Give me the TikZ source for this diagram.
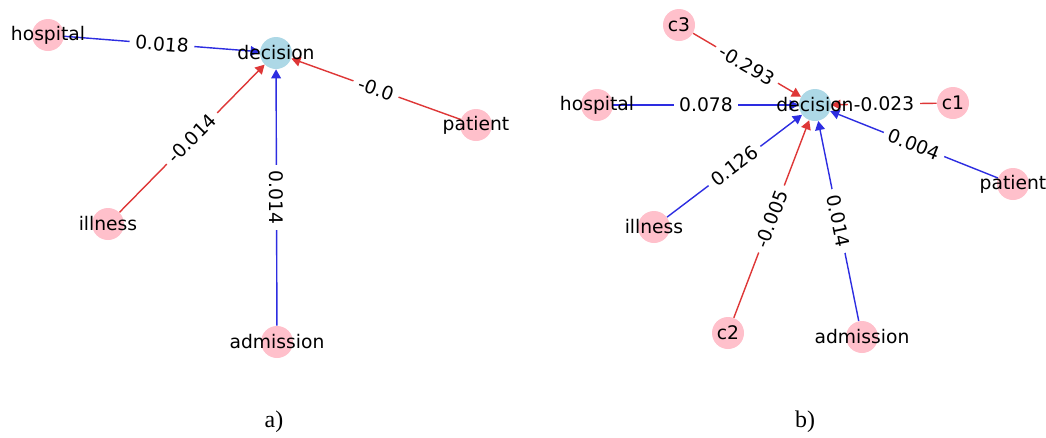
\documentclass[tikz,border=0pt]{standalone}
\usepackage{fontspec}
\setmainfont{DejaVu Sans}
\newfontfamily\capfont{Liberation Serif}
\usetikzlibrary{arrows.meta}
\definecolor{nodepink}{HTML}{FFC0CB}
\definecolor{nodeblue}{HTML}{ADD8E6}
\definecolor{edgeblue}{RGB}{45,45,225}
\definecolor{edgered}{RGB}{222,55,55}
\pgfdeclarelayer{edgelayer}
\pgfsetlayers{edgelayer,main}
\tikzset{
	,font = \fontsize{13.3}{15}\selectfont
	,xnode/.style  = {circle, fill=nodepink, minimum size=0.8cm, inner sep=0pt}
	,ynode/.style  = {circle, fill=nodeblue, minimum size=0.8cm, inner sep=0pt}
	,edgeb/.style = {-{Triangle[length=6.5pt,width=7pt]}, line width=1pt, edgeblue}
	,edger/.style = {-{Triangle[length=6.5pt,width=7pt]}, line width=1pt, edgered}
	,wlabel/.style = {fill=white, text=black, inner xsep=4pt, inner ysep=1pt, sloped}
	,vlabel/.style = {fill=white, text=black, inner xsep=4pt, inner ysep=1pt, rotate=-90}
	,caption/.style = {font=\capfont\fontsize{17}{19}\selectfont}
}

\begin{document}
\begin{tikzpicture}[x=0.025cm, y=-0.025cm]
	\useasboundingbox (0,0) rectangle (1046,437);
	% a)
	\node[ynode, label={center:decision}]  at (276, 53)  (ad) {};
	\node[xnode, label={center:hospital}]  at (48, 35)   (ah) {};
	\node[xnode, label={center:illness}]   at (108, 224) (ai) {};
	\node[xnode, label={center:patient}]   at (476, 125) (ap) {};
	\node[xnode, label={center:admission}] at (277, 342) (am) {};
	\node[caption] at (274, 422) (capa) {a)};
	\begin{pgfonlayer}{edgelayer}
		\draw[edgeb] (ah) -- node[wlabel] {0.018}  (ad);
		\draw[edger] (ai) -- node[wlabel] {-0.014} (ad);
		\draw[edger] (ap) -- node[wlabel] {-0.0}   (ad);
		\draw[edgeb] (am) -- node[vlabel] {0.014}  (ad);
	\end{pgfonlayer}
	% b)
	\node[ynode, label={center:decision}]  at (815, 105)  (bd) {};
	\node[xnode, label={center:c3}]        at (679, 25)   (bc3) {};
	\node[xnode, label={center:hospital}]  at (597, 105)  (bh) {};
	\node[xnode, label={center:c1}]        at (953, 103)  (bc1) {};
	\node[xnode, label={center:patient}]   at (1013, 184) (bp) {};
	\node[xnode, label={center:illness}]   at (654, 227)  (bi) {};
	\node[xnode, label={center:c2}]        at (728, 333)  (bc2) {};
	\node[xnode, label={center:admission}] at (862, 337)  (bm) {};
	\node[caption] at (805, 422) (capb) {b)};
	\begin{pgfonlayer}{edgelayer}
		\draw[edger] (bc3) -- node[wlabel] {-0.293} (bd);
		\draw[edgeb] (bh)  -- node[wlabel] {0.078}  (bd);
		\draw[edger] (bc1) -- node[wlabel] {-0.023} (bd);
		\draw[edgeb] (bp)  -- node[wlabel] {0.004}  (bd);
		\draw[edgeb] (bi)  -- node[wlabel] {0.126}  (bd);
		\draw[edger] (bc2) -- node[wlabel] {-0.005} (bd);
		\draw[edgeb] (bm)  -- node[wlabel] {0.014}  (bd);
	\end{pgfonlayer}
\end{tikzpicture}
\end{document}
